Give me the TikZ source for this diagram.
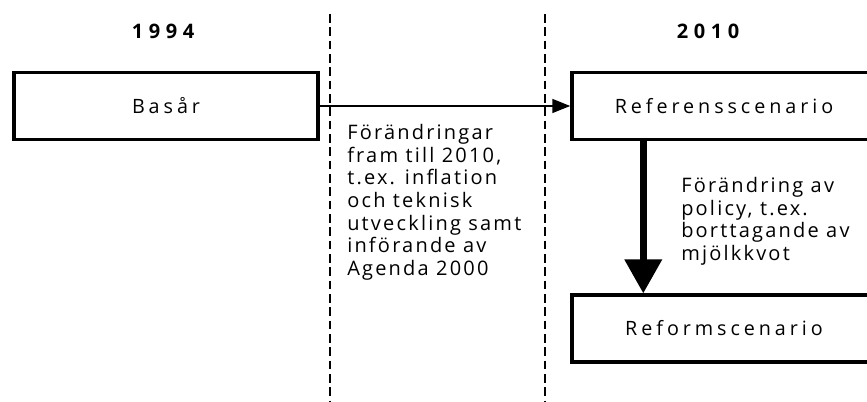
\documentclass[tikz,border=0pt]{standalone}
\usepackage{fontspec}
\setmainfont{Open Sans}
\newfontfamily\boxfont[LetterSpace=20]{Open Sans}
\newfontfamily\notefont[LetterSpace=11]{Open Sans}
\newfontfamily\yearfont[LetterSpace=28]{Open Sans}
\usetikzlibrary{arrows.meta,calc,positioning}

\begin{document}
\begin{tikzpicture}[x=0.75pt,y=-0.75pt,
  scenbox/.style={draw,line width=2.6pt,minimum width=228pt,minimum height=50pt,
    inner sep=0pt,font=\boxfont\fontsize{14.8}{16}\selectfont},
  year/.style={font=\yearfont\bfseries\fontsize{15}{16}\selectfont},
  note/.style={align=left,inner sep=0pt,anchor=north west,
    font=\notefont\fontsize{15}{17}\selectfont},
  divider/.style={line width=1.1pt,dash pattern=on 6.5pt off 3.5pt},
  thinarrow/.style={line width=1.1pt,-{Triangle[length=13.5pt,width=10.5pt]}},
  bigarrow/.style={line width=5.25pt,-{Triangle[length=25.5pt,width=27pt]}}]
\useasboundingbox (0,0) rectangle (867,402);

% time dividers
\coordinate (d1top) at (330,14);
\coordinate (d1bot) at (330,402);
\coordinate (d2top) at (545,14);
\coordinate (d2bot) at (545,402);
\draw[divider] (d1top) -- (d1bot);
\draw[divider] (d2top) -- (d2bot);

% years
\node[year] (y1994) at (163,31) {1994};
\node[year] (y2010) at (708,31) {2010};

% scenarios
\node[scenbox] (basar) at (166,106) {Basår};
\node[scenbox] (ref) at (724,106) {Referensscenario};
\node[scenbox] (reform) at (724,328.5) {Reformscenario};

% changes
\draw[thinarrow] (basar.east) -- (ref.west);
\draw[bigarrow] ($(ref.south west)+(73,0)$) -- ($(reform.north west)+(73,0)$);

\node[note] (drift) at (347,124) {Förändringar\\fram till 2010,\\t.ex. inflation\\och teknisk\\utveckling samt\\införande av\\Agenda 2000};
\node[note] (policy) at (681,177) {Förändring av\\policy, t.ex.\\borttagande av\\mjölkkvot};
\end{tikzpicture}
\end{document}
